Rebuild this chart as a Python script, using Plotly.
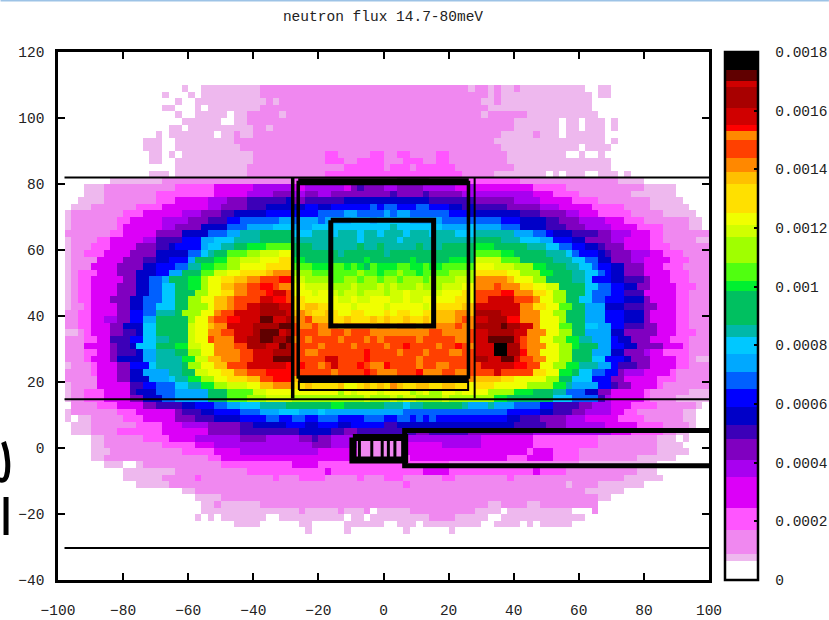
import plotly.graph_objects as go

level_chars = list(".abcdefghijklmnopqrstuvwxyzABCD")
level_tops = [0.000065, 0.000088, 0.00017, 0.000245, 0.00035, 0.00041, 0.00048, 0.00053, 0.00059, 0.00065,
              0.00071, 0.00077, 0.00083, 0.00087, 0.000985, 0.00102, 0.00108, 0.00117, 0.00121, 0.00125,
              0.00135, 0.00139, 0.00144, 0.0015, 0.00153, 0.00155, 0.00161, 0.00168, 0.0017, 0.00174, 0.0018]
level_colors = ["#FFFFFF", "#EEB8EE", "#F088F0", "#FF55FF", "#DC00F8", "#A800F0", "#8000C0", "#3C00B8", "#0000C8", "#0000FF",
                "#0060FF", "#00A8FF", "#00C8FF", "#00B8A8", "#00C060", "#00F030", "#50FF10", "#A0FF00", "#D0FF00", "#F0FF00",
                "#FFE000", "#FFC000", "#FF8800", "#FF4000", "#FF8800", "#FF0000", "#D00000", "#A80000", "#D00000", "#600000", "#000000"]

title_text = "neutron flux 14.7-80meV"
x_ticks = [-100, -80, -60, -40, -20, 0, 20, 40, 60, 80, 100]
y_ticks = [-40, -20, 0, 20, 40, 60, 80, 100, 120]
cb_ticks = [0, 0.0002, 0.0004, 0.0006, 0.0008, 0.001, 0.0012, 0.0014, 0.0016, 0.0018]
cb_labels = ["0", "0.0002", "0.0004", "0.0006", "0.0008", "0.001", "0.0012", "0.0014", "0.0016", "0.0018"]

# flux level per 2-unit cell: letter + column where the run ends
top_rows = [
 ".19 a20 .22 a31 b63 a64 b66 a67 b68 a70 b71 a81 .83 a85 .100",
 ".16 a17 .20 a21 .22 a31 b66 a67 b68 a82 .83 a85 .100",
 ".18 a19 .21 a32 b33 a34 b65 a67 b68 a82 .100",
 ".16 a18 .21 a22 .23 a31 b66 a82 .100",
 ".18 a19 .21 a26 .27 a29 b34 a35 b65 a66 b70 b72 a83 .100",
 ".19 a25 .27 a29 b70 a77 .78 a80 .81 a84 .85 a86 .100",
 ".17 a19 .20 a30 b32 a33 b70 a77 .78 a80 .81 a84 .85 a86 .100",
 ".15 a16 .17 a19 .19 a24 .25 a27 b28 a30 b68 a73 b74 a77 .78 a84 .100",
 ".13 a16 .18 a19 .19 a27 b67 a84 .85 a86 .100",
 ".13 a16 .18 a19 .19 a28 b68 a80 .81 a85 .100",
 ".14 a16 .17 a18 .19 a30 b41 c43 b48 c50 b52 c54 b58 c60 b69 a78 .80 a81 .83 a84 .100",
 ".14 a16 .18 a30 b41 c44 b46 c50 b53 c56 b58 c60 b69 a85 .100",
 ".18 a29 b44 c50 b51 c54 b55 c61 b70 a85 .100",
 ".14 a17 .18 a29 b41 c62 b67 a75 .76 a77 .78 a81 .83 a86 .87 a88 .100",
]
# left runs | centre cells x=-28..28 | right runs
body_rows = [
 ".8 a16 b36|ccccccccccccccccdddddccccccc|c71 b86 a90 .100",
 ".4 a7 b18 c24 d30 e36|ddeeeeeedfgfffeeffffeeeeedde|d73 c78 b90 a95 .100",
 ".4 a7 b15 c24 d29 e33 f36|eeffeefffffffffgffffgfffffee|e73 d76 c80 b88 a95 .100",
 ".3 a7 b15 c18 d23 e26 f29 g35 h36|ffgggggghhhhhhhhhhhhhggggggg|f70 e74 d79 c83 b91 a96 .100",
 ".2 a5 b12 c16 d23 e25 f29 g32 h36|hhiihhiiiiiijijjiiijjiiihhgh|g69 f74 e77 d82 c87 b91 a97 .100",
 ".1 a2 b10 c13 d19 e22 f25 g27 h32 i36|iiiijjjjkkjjjjkjkkjjjjjjiiih|h71 g74 f78 e80 d83 c88 b93 a98 .100",
 ".1 a2 b9 c11 d16 e20 f23 g26 i28 j34 k36|jkkkjkkkklllklllllkkkkkjjjjj|j68 i71 h75 g77 f80 e84 d87 c90 b97 a99 .100",
 ".1 a2 b9 c10 d16 e18 f22 h26 j29 k33 l36|kkkllllllllllllmlllllllkkkkl|k68 j71 h75 g78 f81 e85 d89 c93 b97 a99 .100",
 ".1 b8 c10 d15 f19 h23 j26 k28 m31 n36|lllmmmlmmmlmmlmmmlmmmlmmmlll|m70 k73 j75 i76 h79 g83 f85 e88 d91 c93 b100",
 ".1 a2 b6 c8 d13 e15 g19 i22 k24 l27 m31 n36|mmmmmmmmmmlmmmmmlmmmmmmmmmmm|n68 m71 l74 k76 i79 h81 f85 e87 d91 c93 b98 a100",
 ".1 a2 b5 c8 d12 f15 g17 h18 i22 k23 l25 m27 n29 o32 p36|nnnmmmmmmmnmmnmmmmmnmmmnnnnn|o67 n72 m75 l77 j79 i81 h83 g84 f87 d91 c94 b100",
 ".1 a2 b4 c7 d11 f15 h20 j22 l23 m24 n26 p29 q31 r34 s36|nnnnnnnmnnnnnnmnnnnnnnnnnnnn|p68 o70 n75 m78 l79 j80 i83 h84 g85 f88 e91 d93 c96 b100",
 ".1 a2 b6 d10 f13 g15 h17 i20 k21 n24 o26 q28 r31 s34 t36|oonnnnnnnnnonnnnnnonnnnnooon|r68 p71 n76 m79 l81 j83 h85 f88 e90 d94 c97 b100",
 ".1 a2 b5 d9 f13 h15 i18 j20 m22 o24 p26 q28 s32 t36|pppoooppoponpoooppoopooppppp|s67 r70 q73 o75 n78 m80 l82 j83 i85 h87 f90 d93 c96 b100",
 ".1 a2 b3 c6 d9 f12 h15 i17 k19 n22 p24 r26 s28 t32 u33 v36|qqqpppppppqppoppqppoppppqqqq|t69 s71 q74 o76 n79 m81 l83 j84 i85 h87 f90 d94 c97 b100",
 ".1 a2 b3 c5 d10 f12 h14 j16 k17 n20 o22 q23 s25 t27 u29 v31 w34 y36|rrqqqqppqqpqqpqqpqqqpqqqqrrq|v69 u70 s73 q75 n79 m81 l82 i85 h87 g90 f91 d94 c97 b100",
 ".1 a2 b3 c5 d9 f12 h14 j16 l18 n20 o22 q23 s25 u27 v29 w31 y33 w34 v36|ssrrrrqqqrqqqrqrqqqrqqqrrrss|v67 w68 v71 t73 s75 r77 n81 l83 j85 i87 h89 f91 d95 c98 b100",
 ".1 a2 b3 c5 d9 f12 h14 j16 l18 n21 q23 s25 t27 v29 w32 y33 z35 w36|sssrssrqrrqrrrqrrsrrrrrsssts|w68 y70 v73 t75 s76 q78 n81 l82 j85 i87 g90 d95 c97 b100",
 ".1 a2 b3 c5 d8 f11 h13 j16 l18 n20 q22 s24 u26 v27 w31 z33 y35 w36|ttsssssrrsrrsssrrsrrssssstts|w66 z70 w73 v74 s76 q78 n80 l82 j84 i87 h90 f91 d95 c97 b100",
 ".1 a2 b4 c5 d9 f11 h13 j15 l18 n20 q23 s24 u26 v27 w29 z31 A34 z36|ttuuttsssrssssrsssssrsttttuu|z71 v73 t75 s77 p79 n81 k84 h87 g90 f92 d95 c97 b100",
 ".1 b3 c5 d9 f11 i13 j15 m18 n19 q22 s24 v25 w27 z31 A35 z36|uvuttutssttssststtssttuuuvvu|A68 z71 v74 s76 q78 n81 k84 i87 h90 f91 d95 c97 b100",
 ".1 b3 c5 d7 e9 f11 i13 k15 n20 q21 s23 v24 w26 y28 z31 C33 z35 A36|vvwuuuttutttututtuttutuuuvwv|z66 A69 y71 v74 s77 q78 n81 k84 i87 h90 f91 d95 c97 b100",
 ".1 b3 c5 d8 f10 h13 l15 n20 r21 s23 u24 v26 z30 A34 C36|wvvwvvvuvvvvuvvuvvvuvvvvvwvv|A68 C69 A71 z73 v74 s77 p79 n81 l83 k85 i87 g90 f92 d95 c97 b100",
 ".1 a3 b4 c5 d8 f10 g12 h13 l15 n20 r21 s23 v25 w27 z30 A31 C34 z35 A36|wwwwvvwwvwwwvvvvvvvvvwwvvvvw|z66 A70 z72 v75 s77 q79 n81 k85 h87 f92 d95 c98 b100",
 ".1 b4 c6 d8 g11 i13 l15 m17 n20 r21 s23 w24 v27 z29 A31 C33 A35 C36|vwvwwwwvwwwvwvwwwwwvwwwwwvvw|z66 C70 z71 w72 v74 s76 q78 o80 m82 k85 i86 h88 f91 d94 c97 b100",
 ".1 b4 d8 f9 g11 h12 l15 n18 o20 r22 s24 v27 w29 A32 z34 C35 A36|wwwwvwwwwvwwwwvwwywwwwvwwywv|z67 D69 A71 w72 v75 s77 q79 o80 n83 k85 i87 h89 f93 d96 c97 b100",
 ".1 b4 c6 d8 f9 g12 h13 k15 m18 n20 q22 s24 v28 w30 z33 A36|wwvvwwwwwwwywwwwvwwwvwwwvvww|z67 D69 A71 y72 v74 s77 q79 n82 k85 h87 f90 e91 d93 c97 b100",
 ".1 b4 c5 d8 f9 h13 k15 m19 o21 r23 u25 v28 w30 z33 C36|wwwwwzzwwwwywwwwwwwvwwwwwwww|A66 z68 C70 z71 w73 v75 s77 q79 n82 l84 i87 h88 f91 d95 c97 b98 a100",
 ".1 a2 b5 c6 d9 f11 i14 l15 m19 n20 q22 s24 u26 w29 z35 y36|wywwvwzwwwywvvywwwwvwwvvwwww|w65 z70 y72 w74 s76 q78 o80 m83 k85 i86 g89 f91 d95 c97 b100",
 ".1 b5 c6 d9 f11 h13 k17 m19 n21 r23 s25 t27 v29 w32 y36|wwwwwwvwwwwywvvvwwwyvvvwwvvw|w67 z68 w73 t75 s77 o79 n80 l82 j84 i86 f87 e90 d94 c95 b100",
 ".1 b6 d9 f11 h14 k17 l18 m20 o22 q24 s26 t29 u31 w33 y36|uuvwvvvwvvvvvwvvvuvvvvvvuuuv|u68 t70 s75 q77 n79 l82 i85 f87 d92 c95 b100",
 ".1 a2 b6 d11 g13 i15 j18 l20 m22 o24 q26 r29 s31 u33 v36|ttuttttusstututvuttuuttuutts|t67 s72 q76 o78 m79 k83 i85 g86 f88 d92 c93 b100",
 ".1 a2 b4 c7 d11 g12 h15 j18 k23 n26 p30 r32 s36|sssssssqsrsssrssssqrsqqssrss|s66 q70 o73 n76 m78 j81 h83 f85 d90 c91 b97 a100",
 ".1 a2 b4 c7 d11 f13 h16 j18 k23 n26 p29 q32 r36|qqqqqqqqqqqrqqqrqrrqqqqrqqqq|q67 o69 n76 l79 j83 g84 e85 d90 c91 b95 a100",
]
low_rows = [
 ".2 b6 c9 d13 f15 g19 h21 i24 j26 k28 l31 m35 n42 o44 n50 m53 l54 m56 n62 m63 k66 m67 k70 j74 i76 g80 f82 e85 d88 c92 b98 a99 .100",
 ".1 a2 b9 c12 d18 f19 g22 h24 i28 j31 k34 l37 k40 l41 k53 j69 i74 h76 g79 f81 e85 d87 c89 b96 a98 .100",
 ".1 a2 .3 a5 b10 c13 d18 f21 g24 h28 i32 j34 i36 j38 i40 j43 i47 j50 i52 j54 i55 j56 i57 j58 i69 h71 g74 f78 e81 d86 c90 b96 a98 .100",
 ".2 a5 b12 c16 d19 e23 f28 g30 h35 i38 h40 i43 h45 i50 g52 h70 g75 f78 e84 d89 c93 b97 a98 .100",
 ".2 a5 b9 c16 d23 f28 g37 h42 g44 f46 g55 f57 g63 f73 e85 d88 c93 b95 a97 .100",
 ".5 a7 b13 c17 d21 e28 f32 e37 f39 g40 f42 e46 b53 e65 d73 c83 b92 a95 .96 a97 .100",
 ".5 a7 b16 c21 d24 e39 f42 e46 b53 d59 e65 d73 c83 b92 a96 .100",
 ".5 a8 b19 c24 d28 e40 d46 b53 d72 c73 d76 c80 b92 a97 .100",
 ".5 a7 b23 c25 d46 b53 c54 d69 c72 d76 c80 b89 a95 .100",
 ".7 a10 .12 a13 b25 c36 d40 c60 b80 a92 .100",
 ".10 a18 b29 c41 d42 c56 d60 c73 d74 c78 b89 a92 .100",
 ".10 a16 b21 c22 b33 c34 b37 c41 b46 c47 b50 c53 b59 c61 b69 c70 b87 a93 .100",
 ".12 a17 b53 c54 b78 a79 b83 a90 .100",
 ".19 a21 b81 a87 .100",
 ".21 a25 b83 a85 .100",
 ".22 a24 b25 a31 b66 a68 b72 a74 b83 .100",
 ".22 a37 b38 a43 b44 a47 b48 .49 a54 b64 a68 .69 a79 .82 b83 .100",
 ".21 a22 .23 a24 .25 a32 .34 a44 .45 a47 .48 a57 b61 a66 .68 a81 .100",
 ".27 a31 .37 a39 .44 a45 a50 .52 a53 a55 .56 a65 .67 a71 .72 a73 .74 a79 .100",
 ".38 a39 .44 a45 .53 a54 .60 a61 .100",
]

# detector outlines (x, y) and their stroke widths
thin_x = [-98, 100, None, -98, 100, None, -98, 100, None, 28, 28, None, -26, 26, 26, -26, -26]
thin_y = [82, 82, None, 14.8, 14.8, None, -30.3, -30.3, None, 15, 82, None, 17.6, 17.6, 20, 20, 17.6]
wall_x = [-27.9, -27.9, None, -26.2, -26.2, None, 26.1, 26.1]
wall_y = [15, 82, None, 21, 81, None, 21, 81]
band_x = [-26.2, 26.2, None, -26.2, 26.2]
band_y = [80.7, 80.7, None, 21, 21]
box_x = [-16.2, 15.4, 15.4, -16.2, -16.2, None, 100, 6.5, 6.5, 100]
box_y = [69, 69, 37, 37, 69, None, 5.3, 5.3, -5.4, -5.4]
cap_x = [-9.4, 6.5, 6.5, -9.4, -9.4]
cap_y = [3.2, 3.2, -3.6, -3.6, 3.2]
grille_x = [-7.4, -7.4, None, -3.6, -3.6, None, -0.4, -0.4, None, 1.5, 1.5, None, 3.5, 3.5]
grille_y = [3.2, -3.6, None, 3.2, -3.6, None, 3.2, -3.6, None, 3.2, -3.6, None, 3.2, -3.6]


def runs(text, start, end):
    out, col = [], start
    for tok in text.split():
        stop = min(int(tok[1:]), end)
        out += [tok[0]] * max(stop - col, 0)
        col = max(col, stop)
    return out + ["."] * (end - col)


grid = [runs(r, 0, 100) for r in top_rows]
for r in body_rows:
    left, mid, right = r.split("|")
    mid_cells = (list(mid) + [mid[-1]] * 28)[:28]
    grid.append(runs(left, 0, 36) + mid_cells + runs(right, 64, 100))
grid += [runs(r, 0, 100) for r in low_rows]

lows = [0] + level_tops[:-1]
mid_value = {c: (a + b) / 2 for c, a, b in zip(level_chars, lows, level_tops)}
mid_value["."] = 0
z = [[mid_value[c] for c in row] for row in grid]
xs = list(range(-99, 101, 2))
ys = list(range(109, 109 - 2 * len(z), -2))

ZMAX = level_tops[-1]
scale = []
for lo, hi, col in zip(lows, level_tops, level_colors):
    scale += [[lo / ZMAX, col], [hi / ZMAX, col]]

FONT = "Liberation Mono"
INK = "#222222"
gap = '<span style="font-size:21px">\u00a0</span>'
fig = go.Figure()
fig.add_trace(go.Heatmap(
    x=xs, y=ys, z=z, zmin=0, zmax=ZMAX, colorscale=scale, hoverinfo="skip",
    colorbar=dict(x=(725.5 - 57.5) / 651.5, xanchor="left", xpad=0, y=0, yanchor="bottom", ypad=0, len=1,
                  thickness=33, outlinewidth=2.5, outlinecolor="black", borderwidth=0,
                  ticks="inside", ticklen=5, tickwidth=2, tickcolor="black",
                  tickmode="array", tickvals=cb_ticks, ticktext=[gap + t for t in cb_labels],
                  tickfont=dict(family=FONT, size=14.5, color=INK)),
))
for xv, yv, w in [(thin_x, thin_y, 2), (wall_x, wall_y, 3.5), (band_x, band_y, 7), (box_x, box_y, 5),
                  (cap_x, cap_y, 7), (grille_x, grille_y, 3)]:
    fig.add_trace(go.Scatter(x=xv, y=yv, mode="lines", line=dict(color="black", width=w),
                             hoverinfo="skip", showlegend=False))

W, H = 829, 620
L, R, T, B = 57.5, 709, 52, 580


def px(x):
    return (x - L) / (R - L)


def py(y):
    return (B - y) / (B - T)


shapes = [
    dict(type="line", xref="paper", yref="paper", x0=px(0), x1=px(W), y0=py(0.5), y1=py(0.5),
         line=dict(color="#9DC3E6", width=2)),
    dict(type="line", xref="paper", yref="paper", x0=px(5.5), x1=px(5.5), y0=py(497), y1=py(535),
         line=dict(color="black", width=5)),
    dict(type="path", xref="paper", yref="paper",
         path=f"M {px(3)} {py(442)} C {px(8)} {py(455)} {px(8)} {py(470)} {px(6)} {py(476)} C {px(4)} {py(482)} {px(1)} {py(480)} {px(-1)} {py(480)}",
         line=dict(color="black", width=5)),
]
for v in cb_ticks[1:-1]:
    shapes.append(dict(type="line", xref="paper", yref="paper", x0=px(725.5), x1=px(730.5), y0=v / ZMAX, y1=v / ZMAX,
                       line=dict(color="black", width=2)))

axis = dict(ticks="inside", ticklen=7, tickwidth=2, tickcolor="black", showline=True, linecolor="black",
            linewidth=2.5, mirror="ticks", showgrid=False, zeroline=False, automargin=False,
            tickfont=dict(family=FONT, size=14.5, color=INK))
fig.update_layout(
    width=W, height=H, margin=dict(l=L, r=W - R, t=T, b=H - B, autoexpand=False),
    paper_bgcolor="white", plot_bgcolor="white", showlegend=False, shapes=shapes,
    title=dict(text=title_text, x=383 / W, xanchor="center", y=1 - 15.5 / H, yanchor="middle",
               font=dict(family=FONT, size=14.5, color=INK)),
    xaxis=dict(range=[-100, 100], tickvals=x_ticks, ticklabelstandoff=15, **axis),
    yaxis=dict(range=[-40, 120], tickvals=y_ticks, ticklabelstandoff=8, **axis),
)
fig.write_html("out.html", config=dict(displayModeBar=False), post_script="document.body.style.margin='0';")
